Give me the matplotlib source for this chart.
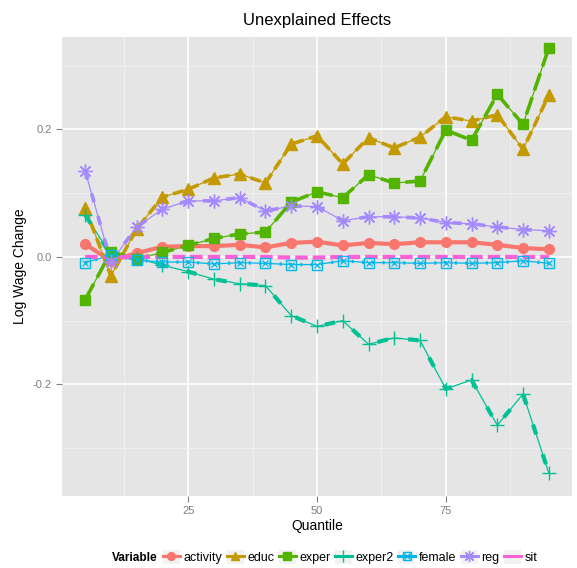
import numpy as np
import matplotlib
matplotlib.use("Agg")
import matplotlib.pyplot as plt
from matplotlib.lines import Line2D
from matplotlib.patches import Rectangle
from matplotlib.legend_handler import HandlerTuple
from matplotlib.ticker import MultipleLocator

plt.rcParams["font.family"] = ["Liberation Sans", "DejaVu Sans"]

# quantiles and unexplained effects
quantile = [5, 10, 15, 20, 25, 30, 35, 40, 45, 50, 55, 60, 65, 70, 75, 80, 85, 90, 95]
activity = [0.020, -0.006, 0.006, 0.016, 0.017, 0.017, 0.019, 0.015, 0.022, 0.024,
            0.018, 0.022, 0.020, 0.023, 0.023, 0.023, 0.019, 0.014, 0.012]
educ = [0.077, -0.030, 0.044, 0.094, 0.106, 0.124, 0.130, 0.116, 0.177, 0.190,
        0.146, 0.187, 0.171, 0.188, 0.220, 0.213, 0.223, 0.169, 0.254]
exper = [-0.067, 0.008, -0.003, 0.007, 0.018, 0.029, 0.036, 0.039, 0.086, 0.102,
         0.093, 0.129, 0.116, 0.119, 0.199, 0.183, 0.255, 0.208, 0.328]
exper2 = [0.066, 0.003, -0.002, -0.013, -0.023, -0.035, -0.042, -0.045, -0.092, -0.109,
          -0.100, -0.137, -0.127, -0.131, -0.207, -0.193, -0.264, -0.215, -0.339]
female = [-0.009, 0.003, -0.005, -0.008, -0.008, -0.011, -0.009, -0.010, -0.012, -0.012,
          -0.006, -0.009, -0.009, -0.010, -0.009, -0.010, -0.009, -0.006, -0.010]
reg = [0.135, -0.008, 0.047, 0.075, 0.088, 0.088, 0.093, 0.072, 0.080, 0.079,
       0.057, 0.063, 0.063, 0.061, 0.054, 0.052, 0.047, 0.043, 0.041]
sit = [0.000, 0.000, 0.000, 0.000, 0.000, 0.000, 0.000, 0.000, -0.001, -0.001,
       0.000, 0.000, 0.000, 0.000, 0.000, 0.000, 0.000, 0.000, 0.000]

names = ["activity", "educ", "exper", "exper2", "female", "reg", "sit"]
series = [activity, educ, exper, exper2, female, reg, sit]
colors = ["#F8766D", "#C49A00", "#53B400", "#00C094", "#00B6EB", "#A58AFF", "#FB61D7"]
markers = ["o", "^", "s", "+", "s", (8, 2, 0), None]
msizes = [7, 8, 7, 10, 7, 10, 0]
dashes = [None, (3, 1.5), (5, 2), (2.5, 5), (0.6, 2.5), (2.5, 4), (3, 1.2)]
thick = [3.0, 2.6, 2.6, 3.0, 2.4, 2.6, 3.0]

fig = plt.figure(figsize=(5.77, 5.68), dpi=100)
ax = fig.add_axes([62 / 577, 1 - 496 / 568, 510 / 577, 459 / 568])
ax.set_facecolor("#E5E5E5")
for s in ax.spines.values():
    s.set_visible(False)

ax.xaxis.set_major_locator(MultipleLocator(25))
ax.xaxis.set_minor_locator(MultipleLocator(12.5))
ax.yaxis.set_major_locator(MultipleLocator(0.2))
ax.yaxis.set_minor_locator(MultipleLocator(0.1))
ax.grid(which="major", color="white", lw=1.2)
ax.grid(which="minor", color="#F2F2F2", lw=0.6)
ax.set_axisbelow(True)
ax.tick_params(which="minor", length=0)
ax.tick_params(which="major", length=4, color="#7F7F7F", labelcolor="#7F7F7F", labelsize=8)

handles = []
for name, y, c, m, ms, d, lw in zip(names, series, colors, markers, msizes, dashes, thick):
    if name != "sit" and name != "activity":
        ax.plot(quantile, y, color=c, lw=0.9, zorder=2)
    ln, = ax.plot(quantile, y, color=c, lw=lw, zorder=3,
                  solid_capstyle="butt", dash_capstyle="butt")
    if d is not None:
        ln.set_dashes(d)
    if m is not None:
        if name == "female":
            ax.plot(quantile, y, ls="none", marker="s", ms=ms, mfc="none", mec=c, mew=1.0, zorder=4)
            ax.plot(quantile, y, ls="none", marker="x", ms=ms * 0.7, mec=c, mew=0.9, zorder=4)
        else:
            ax.plot(quantile, y, ls="none", marker=m, ms=ms, color=c, mew=1.0, zorder=4)
    lms = ms * 0.8
    key = Rectangle((0, 0), 1, 1, facecolor="#F2F2F2", edgecolor="none")
    if name == "female":
        h = (key,
             Line2D([], [], color=c, lw=2.2, marker="s", ms=lms, mfc="none", mec=c),
             Line2D([], [], ls="none", marker="x", ms=lms * 0.7, mec=c))
    else:
        h = (key, Line2D([], [], color=c, lw=2.2, marker=m, ms=lms if m else 0))
    handles.append(h)

ax.set_xlim(0.5, 99.5)
ax.set_ylim(-0.375, 0.345)
ax.set_yticks([-0.2, 0.0, 0.2])
ax.set_yticklabels(["-0.2", "0.0", "0.2"])
ax.set_xticks([25, 50, 75])

ax.set_title("Unexplained Effects", fontsize=12, pad=9)
ax.set_xlabel("Quantile", fontsize=10, labelpad=2)
ax.set_ylabel("Log Wage Change", fontsize=10, labelpad=4)

fig.text(112 / 577, 1 - 558 / 568, "Variable", fontsize=8.5, fontweight="bold", va="center")
leg = fig.legend(handles, names, loc="center left", bbox_to_anchor=(163 / 577, 1 - 557 / 568),
                 ncol=7, frameon=False, fontsize=9, handlelength=1.35, handleheight=1.35,
                 handletextpad=0.3, columnspacing=0.35, borderaxespad=0, borderpad=0,
                 handler_map={tuple: HandlerTuple(ndivide=1, pad=0)})

fig.savefig("out.png", dpi=100)
